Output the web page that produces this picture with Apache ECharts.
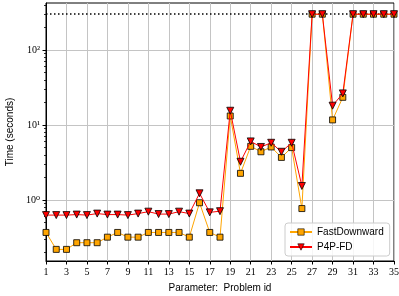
<!DOCTYPE html>
<html>
<head>
<meta charset="utf-8">
<script src="https://cdn.jsdelivr.net/npm/echarts@6/dist/echarts.min.js"></script>
<style>html,body{margin:0;padding:0;background:#fff}#c{width:399px;height:296px}</style>
</head>
<body>
<div id="c"></div>
<script>
const problemIds = [1,2,3,4,5,6,7,8,9,10,11,12,13,14,15,16,17,18,19,20,21,22,23,24,25,26,27,28,29,30,31,32,33,34,35];
const fastDownward = [0.37,0.22,0.22,0.27,0.27,0.27,0.32,0.37,0.32,0.32,0.37,0.37,0.37,0.37,0.32,0.92,0.37,0.32,13.2,2.27,5.2,4.4,5.1,3.7,5.0,0.77,300,300,11.7,23.4,300,300,300,300,300];
const p4pFD = [0.63,0.63,0.63,0.64,0.63,0.66,0.64,0.64,0.63,0.66,0.70,0.65,0.65,0.70,0.66,1.23,0.685,0.71,15.5,3.24,6.05,5.1,5.8,4.4,5.8,1.54,300,300,18.1,26.4,300,300,300,300,300];
const timeoutValue = 300;
const yMajorTicks = [1,10,100];
const yMinorTicks = [0.2,0.3,0.4,0.5,0.6,0.7,0.8,0.9,2,3,4,5,6,7,8,9,20,30,40,50,60,70,80,90,200,300,400];
const yMin = 0.154, yMax = 423;
const supMap = {'0':'\u2070','1':'\u00b9','2':'\u00b2','3':'\u00b3'};

const chart = echarts.init(document.getElementById('c'), null, {renderer:'canvas'});
const serif = 'Liberation Serif, DejaVu Serif, serif';
const sans = 'Liberation Sans, DejaVu Sans, sans-serif';
chart.setOption({
  animation: false,
  grid: {left:46, right:5, top:3, bottom:35, show:true, borderColor:'#000', borderWidth:1,
    backgroundColor:'transparent', containLabel:false, outerBoundsMode:'none'},
  legend: {
    left:285, top:223, orient:'vertical', itemWidth:22, itemHeight:8, itemGap:5,
    padding:[4,6,4,4], borderColor:'#cccccc', borderWidth:1, borderRadius:3,
    backgroundColor:'rgba(255,255,255,0.85)',
    textStyle:{fontFamily:sans, fontSize:10, color:'#000'},
    data:[
      {name:'FastDownward', itemStyle:{color:'#FFA500', borderColor:'#000', borderWidth:0.6}},
      {name:'P4P-FD', itemStyle:{color:'#FF0000', borderColor:'#000', borderWidth:0.6}}
    ]
  },
  xAxis: {
    type:'value', min:1, max:35, interval:2,
    name:'Parameter:  Problem id', nameLocation:'middle', nameGap:22,
    nameTextStyle:{fontFamily:sans, fontSize:10, color:'#000'},
    axisLine:{lineStyle:{color:'#000', width:1}},
    axisTick:{show:true, length:3.5, lineStyle:{color:'#000'}},
    axisLabel:{fontFamily:serif, fontSize:10, color:'#000', margin:6},
    splitLine:{show:true, lineStyle:{color:'#c4c4c4', width:1}}
  },
  yAxis: [{
    type:'log', min:yMin, max:yMax,
    name:'Time (seconds)', nameLocation:'middle', nameGap:26,
    nameTextStyle:{fontFamily:sans, fontSize:10, color:'#000'},
    axisLine:{show:true, lineStyle:{color:'#000', width:1}},
    axisTick:{show:true, length:3.5, customValues:yMajorTicks, lineStyle:{color:'#000'}},
    axisLabel:{fontFamily:serif, fontSize:10, color:'#000', margin:6, customValues:yMajorTicks,
      formatter: v => '10' + String(Math.round(Math.log10(v))).split('').map(c=>supMap[c]||c).join('')},
    splitLine:{show:true, lineStyle:{color:'#c4c4c4', width:1}}
  },{
    type:'log', min:yMin, max:yMax, position:'left',
    axisLine:{show:false},
    axisTick:{show:true, length:2, customValues:yMinorTicks, lineStyle:{color:'#000', width:0.8}},
    axisLabel:{show:false},
    splitLine:{show:false}
  }],
  series: [{
    name:'FastDownward', type:'line', yAxisIndex:0,
    data: problemIds.map((id,i)=>[id, fastDownward[i]]),
    symbol:'rect', symbolSize:6, showAllSymbol:true,
    lineStyle:{color:'#FFA500', width:1},
    itemStyle:{color:'#FFA500', borderColor:'#000', borderWidth:0.8},
    z:3,
    markLine:{
      silent:true, symbol:'none', label:{show:false},
      lineStyle:{color:'#000', type:[1.5,2.5], width:1.5},
      data:[{yAxis:timeoutValue}], z:1
    }
  },{
    name:'P4P-FD', type:'line', yAxisIndex:0,
    data: problemIds.map((id,i)=>[id, p4pFD[i]]),
    symbol:'triangle', symbolRotate:180, symbolSize:7, showAllSymbol:true,
    lineStyle:{color:'#FF0000', width:1},
    itemStyle:{color:'#FF0000', borderColor:'#000', borderWidth:0.8},
    z:4
  }]
});
</script>
</body>
</html>
